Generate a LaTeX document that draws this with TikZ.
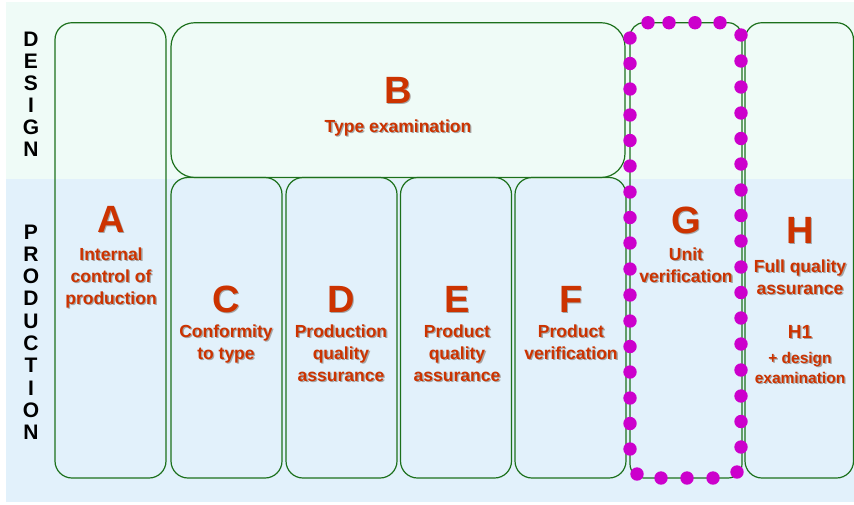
\documentclass[tikz,border=0pt]{standalone}
\usepackage{fontspec}
\setmainfont{Liberation Sans}
\definecolor{bgtop}{RGB}{239,251,247}
\definecolor{bgbot}{RGB}{226,241,251}
\definecolor{boxgreen}{RGB}{28,112,28}
\definecolor{labred}{RGB}{204,51,0}
\definecolor{shadowgrey}{RGB}{165,165,165}
\definecolor{dotmag}{RGB}{204,0,204}
\newcommand{\shadtext}[5]{%
  \node[shadowtxt,font={\bfseries\fontsize{#4}{#4}\selectfont}] (#1s) at (#2+1.3,#3+1.3) {#5};
  \node[maintxt,font={\bfseries\fontsize{#4}{#4}\selectfont}] (#1) at (#2,#3) {#5};}
\begin{document}
\begin{tikzpicture}[x=1pt,y=-1pt,
  boxline/.style={draw=boxgreen,line width=1.2pt},
  maintxt/.style={text=labred,anchor=base,inner sep=0pt},
  shadowtxt/.style={text=shadowgrey,anchor=base,inner sep=0pt},
  sidetxt/.style={text=black,anchor=base,inner sep=0pt,font={\bfseries\fontsize{21}{21}\selectfont}},
  gdot/.style={fill=dotmag}]
\useasboundingbox (0,0) rectangle (854,504);
% background
\fill[white] (0,0) rectangle (854,504);
\fill[bgtop] (6,2) rectangle (854,178.5);
\fill[bgbot] (6,178.5) rectangle (854,502);
% boxes
\draw[boxline,rounded corners=17pt] (55,22.7) rectangle (166,478);
\draw[boxline,rounded corners=24pt] (171,22.7) rectangle (625,177.5);
\draw[boxline,rounded corners=17pt] (171,177.5) rectangle (282,478);
\draw[boxline,rounded corners=17pt] (286,177.5) rectangle (397,478);
\draw[boxline,rounded corners=17pt] (400.5,177.5) rectangle (511.5,478);
\draw[boxline,rounded corners=17pt] (515,177.5) rectangle (626,478);
\draw[boxline,rounded corners=14pt] (630,22.7) rectangle (742,478);
\draw[boxline,rounded corners=17pt] (745,22.7) rectangle (853.5,478);
% dotted outline of G
\foreach \xx in {648,669,695,720}
  \fill[gdot] (\xx,22.7) circle (6.7);
\foreach \yy in {38,63.5,89,115,140.5,166,192,217.5,243,269,295,321,346.5,372,398,423.5,449}
  \fill[gdot] (630,\yy) circle (6.7);
\foreach \yy in {35,61,87,113,138.5,164,190,215.5,241,267,292.5,318,344,370,396,421.5,447}
  \fill[gdot] (741,\yy) circle (6.7);
\foreach \xx/\yy in {637/474,661/478,687/478,713/478,737/472}
  \fill[gdot] (\xx,\yy) circle (6.7);
% side labels
\foreach \ltr [count=\i] in {D,E,S,I,G,N}
  \node[sidetxt] (ds\i) at (31,{46.5+22*(\i-1)}) {\ltr};
\foreach \ltr [count=\i] in {P,R,O,D,U,C,T,I,O,N}
  \node[sidetxt] (ps\i) at (31,{239+22.33*(\i-1)}) {\ltr};
% B
\shadtext{bL}{398}{103}{38}{B}
\shadtext{bA}{398}{132}{17.5}{Type examination}
% A
\shadtext{aL}{111}{232}{38}{A}
\shadtext{aA}{111}{260}{17.5}{Internal}
\shadtext{aB}{111}{282}{17.5}{control of}
\shadtext{aC}{111}{304}{17.5}{production}
% C
\shadtext{cL}{226}{312}{38}{C}
\shadtext{cA}{226}{337.5}{17.5}{Conformity}
\shadtext{cB}{226}{359.5}{17.5}{to type}
% D
\shadtext{dL}{341}{312}{38}{D}
\shadtext{dA}{341}{337.5}{17.5}{Production}
\shadtext{dB}{341}{359.5}{17.5}{quality}
\shadtext{dC}{341}{381.5}{17.5}{assurance}
% E
\shadtext{eL}{457}{312}{38}{E}
\shadtext{eA}{457}{337.5}{17.5}{Product}
\shadtext{eB}{457}{359.5}{17.5}{quality}
\shadtext{eC}{457}{381.5}{17.5}{assurance}
% F
\shadtext{fL}{571}{312}{38}{F}
\shadtext{fA}{571}{337.5}{17.5}{Product}
\shadtext{fB}{571}{359.5}{17.5}{verification}
% G
\shadtext{gL}{686}{233}{38}{G}
\shadtext{gA}{686}{260}{17.5}{Unit}
\shadtext{gB}{686}{282}{17.5}{verification}
% H
\shadtext{hL}{800}{243}{38}{H}
\shadtext{hA}{800}{272}{17.5}{Full quality}
\shadtext{hB}{800}{294}{17.5}{assurance}
\shadtext{hC}{800}{338}{19}{H1}
\shadtext{hD}{800}{363}{15.5}{+ design}
\shadtext{hE}{800}{383}{15.5}{examination}
\end{tikzpicture}
\end{document}
